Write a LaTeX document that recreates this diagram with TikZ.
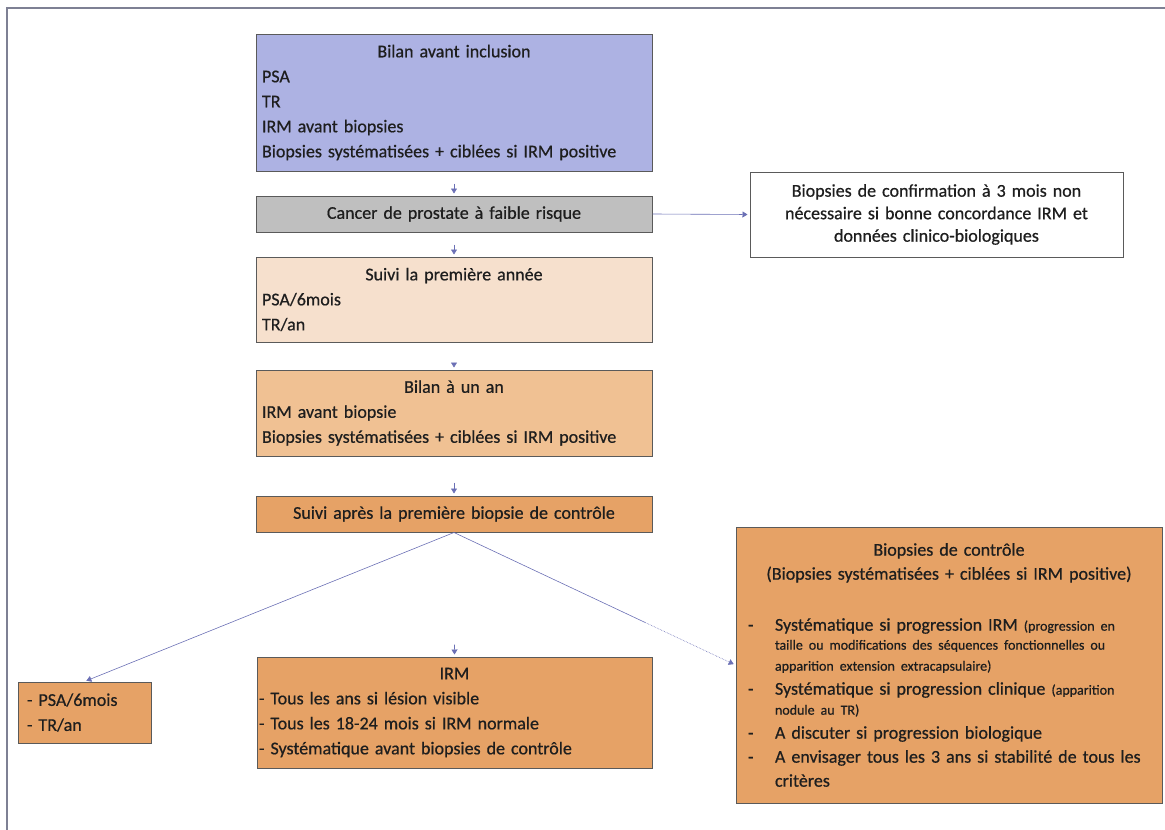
\documentclass[tikz,border=0pt]{standalone}
\usepackage{fontspec}
\setmainfont{Carlito}[FakeBold=0.6]
\usetikzlibrary{arrows.meta,calc}
\definecolor{cBlue}{HTML}{ADB2E3}
\definecolor{cGrey}{HTML}{BFBFBF}
\definecolor{cPeach}{HTML}{F6E0CD}
\definecolor{cLight}{HTML}{F0C193}
\definecolor{cOrange}{HTML}{E6A266}
\definecolor{cLine}{HTML}{5A5A5A}
\definecolor{cArrow}{HTML}{6B70B5}
\definecolor{cFrame}{HTML}{7E8094}
\definecolor{cText}{HTML}{1E1E1E}
\newcommand\smtxt{\fontsize{14}{16}\selectfont}
\newcommand\itm{\noindent\llap{\makebox[27pt][l]{-}}}
\begin{document}
\begin{tikzpicture}[x=1pt,y=-1pt,
  box/.style={draw=cLine, line width=1pt, inner xsep=6pt, inner ysep=0pt, text=cText,
    font=\fontsize{18}{25}\selectfont},
  arr/.style={draw=cArrow, line width=0.6pt, -{Triangle[width=6pt,length=5pt]}, shorten >=2pt}]

\useasboundingbox (0,0) rectangle (1165,830);
\draw[cFrame, line width=1.5pt] (7,830) -- (7,8) -- (1165,8);

\node[box, fill=cBlue, minimum width=396pt, minimum height=137pt, text width=384pt] (b1) at (454,102.5)
  {\parindent=0pt\centering Bilan avant inclusion\par\raggedright PSA\\TR\\IRM avant biopsies\\Biopsies systématisées + ciblées si IRM positive};

\node[box, fill=cGrey, minimum width=396pt, minimum height=36pt, text width=384pt, align=center] (b2) at (454,214)
  {Cancer de prostate à faible risque};

\node[box, fill=white, minimum width=373pt, minimum height=85pt, text width=361pt, align=center,
  font=\fontsize{18}{22.5}\selectfont] (conf) at (936.5,214.5)
  {Biopsies de confirmation à 3 mois non\\nécessaire si bonne concordance IRM et\\données clinico-biologiques};

\node[box, fill=cPeach, minimum width=396pt, minimum height=85pt, text width=384pt] (b3) at (454,299.5)
  {\parindent=0pt\centering Suivi la première année\par\raggedright PSA/6mois\\TR/an};

\node[box, fill=cLight, minimum width=396pt, minimum height=86pt, text width=384pt] (b4) at (454,413)
  {\parindent=0pt\centering Bilan à un an\par\raggedright IRM avant biopsie\\Biopsies systématisées + ciblées si IRM positive};

\node[box, fill=cOrange, minimum width=396pt, minimum height=36pt, text width=384pt, align=center] (b5) at (454,514)
  {Suivi après la première biopsie de contrôle};

\node[box, fill=cOrange, minimum width=133pt, minimum height=61pt, inner xsep=9pt, text width=115pt] (psa) at (84.5,712.5)
  {\parindent=0pt\raggedright - PSA/6mois\\- TR/an};

\node[box, fill=cOrange, minimum width=395pt, minimum height=111pt, inner xsep=2pt, text width=391pt] (irm) at (454.5,712.5)
  {\parindent=0pt\centering IRM\par\raggedright - Tous les ans si lésion visible\\- Tous les 18-24 mois si IRM normale\\- Systématique avant biopsies de contrôle};

\node[box, fill=cOrange, minimum width=426pt, minimum height=276pt, inner xsep=12pt, text width=402pt,
  font=\fontsize{18}{24}\selectfont] (bc) at (949,665)
  {\parindent=0pt\centering Biopsies de contrôle\\(Biopsies systématisées + ciblées si IRM positive)\par
   \vspace{27pt}\raggedright\leftskip=27pt
   \itm Systématique si progression IRM {\smtxt(progression en}\\[-5pt]{\smtxt taille ou modifications des séquences fonctionnelles ou}\\[-3pt]{\smtxt apparition extension extracapsulaire)}\par
   \itm Systématique si progression clinique {\smtxt(apparition}\\[-4pt]{\smtxt nodule au TR)}\par
   \itm A discuter si progression biologique\par
   \itm A envisager tous les 3 ans si stabilité de tous les\\critères\par};

\draw[arr, shorten <=12pt] (b1.south) -- (b2.north);
\draw[arr, shorten <=12pt] (b2.south) -- (b3.north);
\draw[arr, shorten <=20pt] (b3.south) -- (b4.north);
\draw[arr, shorten <=26pt] (b4.south) -- (b5.north);
\draw[arr, shorten <=112pt] (b5.south) -- (irm.north);
\draw[arr] (b2.east) -- (conf.west);
\draw[arr] (b5.south) -- (psa.north);
\coordinate (mid) at ($(b5.south)!0.68!(bc.west)$);
\draw[draw=cArrow, line width=0.6pt] (b5.south) -- (mid);
\draw[arr, densely dotted] (mid) -- (bc.west);
\end{tikzpicture}
\end{document}
